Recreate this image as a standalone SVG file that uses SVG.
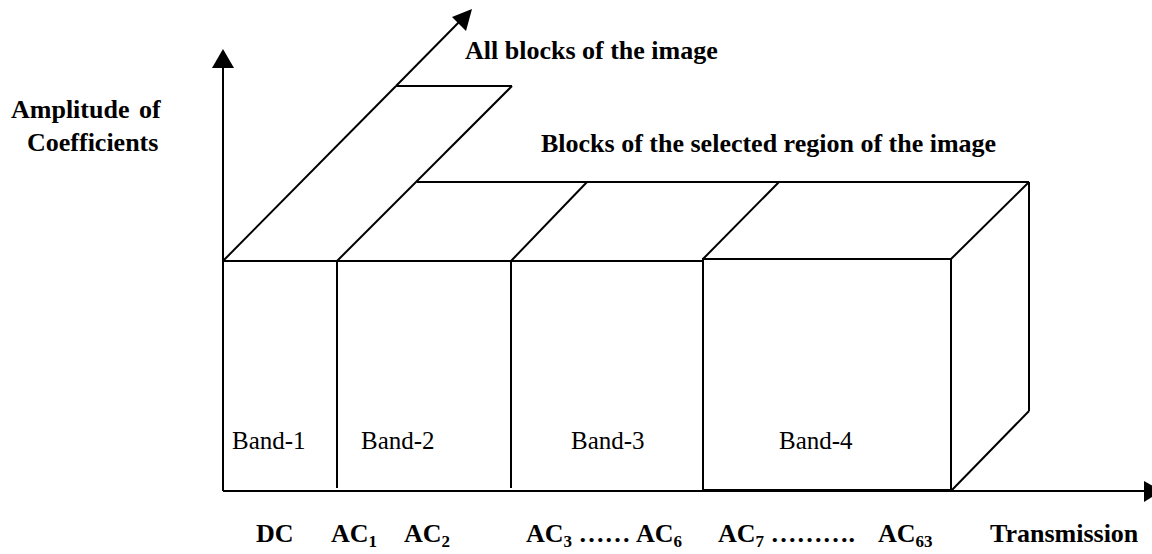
<svg xmlns="http://www.w3.org/2000/svg" width="1152" height="554" viewBox="0 0 1152 554">
<style>
.ln{stroke:#000;stroke-width:2;fill:none;stroke-linecap:butt}
.hd{fill:#000;stroke:none}
.b{font-family:"Liberation Serif","Times New Roman",serif;font-weight:bold;font-size:26px;fill:#000}
.r{font-family:"Liberation Serif","Times New Roman",serif;font-size:25px;fill:#000}
.sub{font-size:17px}
</style>
<rect width="1152" height="554" fill="#fff"/>
<g id="connectors">
<line class="ln" x1="223" y1="66" x2="223" y2="491"/>
<polygon class="hd" points="223,49 212,68 234,68"/>
<line class="ln" x1="223" y1="491" x2="1146" y2="491"/>
<polygon class="hd" points="1162,491 1144,481 1144,502"/>
<line class="ln" x1="223" y1="261" x2="396" y2="86"/>
<line class="ln" x1="396" y1="86" x2="463" y2="18"/>
<polygon class="hd" points="472,9 452,17 466,31"/>
</g>
<g id="all-blocks">
<line class="ln" x1="396" y1="86" x2="512" y2="86"/>
<line class="ln" x1="337" y1="261" x2="512" y2="86"/>
</g>
<g id="selected-region">
<line class="ln" x1="417" y1="182" x2="1029" y2="182"/>
<line class="ln" x1="511" y1="261" x2="587" y2="182"/>
<line class="ln" x1="703" y1="259" x2="779" y2="182"/>
<line class="ln" x1="951" y1="259" x2="1029" y2="182"/>
<line class="ln" x1="1029" y1="182" x2="1029" y2="411"/>
<line class="ln" x1="951" y1="491" x2="1029" y2="411"/>
</g>
<g id="band-1">
<line class="ln" x1="223" y1="261" x2="337" y2="261"/>
<text class="r" x="232" y="449">Band-1</text>
</g>
<g id="band-2">
<line class="ln" x1="337" y1="261" x2="511" y2="261"/>
<line class="ln" x1="337" y1="261" x2="337" y2="488"/>
<text class="r" x="361" y="449">Band-2</text>
</g>
<g id="band-3">
<line class="ln" x1="511" y1="261" x2="703" y2="261"/>
<line class="ln" x1="511" y1="261" x2="511" y2="488"/>
<text class="r" x="571" y="449">Band-3</text>
</g>
<g id="band-4">
<rect class="ln" x="703" y="259" width="248" height="231"/>
<text class="r" x="779" y="449">Band-4</text>
</g>
<g id="labels">
<text class="b" x="465" y="59">All blocks of the image</text>
<text class="b" x="541" y="152">Blocks of the selected region of the image</text>
<text class="b" x="11" y="118">Amplitude <tspan x="139">of</tspan></text>
<text class="b" x="27" y="151">Coefficients</text>
<text class="b" x="256" y="542">DC</text>
<text class="b" x="331" y="542">AC<tspan class="sub" dy="5">1</tspan></text>
<text class="b" x="404" y="542">AC<tspan class="sub" dy="5">2</tspan></text>
<text class="b" x="526" y="542">AC<tspan class="sub" dy="5">3</tspan><tspan dy="-5"> …… </tspan><tspan x="636">AC</tspan><tspan class="sub" dy="5">6</tspan></text>
<text class="b" x="718" y="542">AC<tspan class="sub" dy="5">7</tspan><tspan dy="-5"> ………. </tspan><tspan x="878">AC</tspan><tspan class="sub" dy="5">63</tspan></text>
<text class="b" x="990" y="542">Transmission</text>
</g>
</svg>
